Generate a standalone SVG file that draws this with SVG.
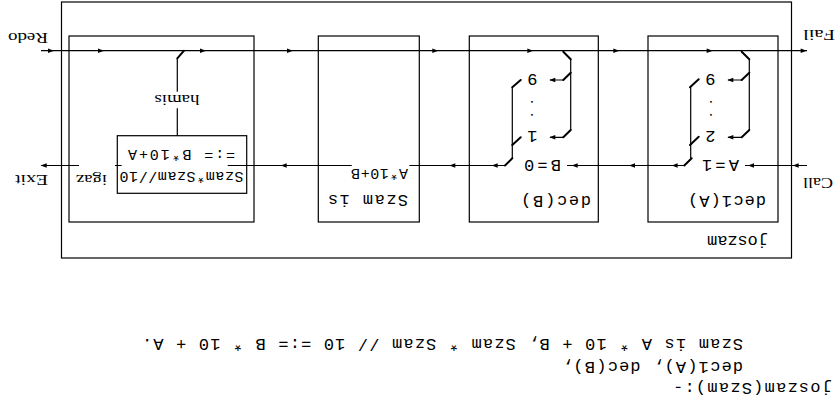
<svg xmlns="http://www.w3.org/2000/svg" width="838" height="404" viewBox="0 0 838 404">
<style>
.ln{stroke:#000;stroke-width:1.2;fill:none}
.sw{stroke:#000;stroke-width:2;fill:none;stroke-linecap:round}
.bx{stroke:#000;stroke-width:1.2;fill:none}
.mono{font-family:"Liberation Mono","Courier New",monospace;fill:#000}
.serif{font-family:"Liberation Serif","Times New Roman",serif;fill:#000;font-size:15px}
.m17{font-size:17px}
.m15{font-size:15px}
.dot{font-size:11px;font-weight:bold}
</style>
<defs>
<path id="ar" d="M0,0 L-6,-2.3 L-6,2.3 Z" fill="#000"/>
<path id="al" d="M0,0 L6,-2.3 L6,2.3 Z" fill="#000"/>
</defs>
<rect width="838" height="404" fill="#fff"/>
<g transform="rotate(180 419 202)">
  <g id="code">
    <text class="mono m17" x="6" y="20.7" textLength="159">joszam(Szam):-</text>
    <text class="mono m17" x="95" y="42" textLength="181">dec1(A), dec(B),</text>
    <text class="mono m17" x="95" y="64.7" textLength="601">Szam is A * 10 + B, Szam * Szam // 10 =:= B * 10 + A.</text>
  </g>
  <g id="joszam">
    <rect class="bx" x="46.5" y="146" width="730" height="256"/>
    <text class="mono m17" x="70" y="168" textLength="61">joszam</text>
  </g>
  <g id="port-labels">
    <text class="serif" x="5" y="226" textLength="30" lengthAdjust="spacingAndGlyphs">Call</text>
    <text class="serif" x="3" y="374" textLength="32" lengthAdjust="spacingAndGlyphs">Fail</text>
    <text class="serif" x="790" y="229" textLength="33" lengthAdjust="spacingAndGlyphs">Exit</text>
    <text class="serif" x="790" y="371" textLength="40" lengthAdjust="spacingAndGlyphs">Redo</text>
  </g>
  <g id="dec1">
    <rect class="bx" x="60" y="182" width="130" height="186"/>
    <text class="mono m17" x="72" y="208" textLength="78">dec1(A)</text>
    <text class="mono m17" x="99" y="244" textLength="37">A=1</text>
    <text class="mono m17" x="127.5" y="273.5" text-anchor="middle">2</text>
    <text class="mono dot" x="127" y="290.5" text-anchor="middle">.</text>
    <text class="mono dot" x="127" y="303.5" text-anchor="middle">.</text>
    <text class="mono m17" x="127.5" y="330" text-anchor="middle">9</text>
  </g>
  <g id="dec">
    <rect class="bx" x="239.7" y="182" width="129" height="186"/>
    <text class="mono m17" x="247" y="208" textLength="70">dec(B)</text>
    <text class="mono m17" x="277" y="244" textLength="37">B=0</text>
    <text class="mono m17" x="305.5" y="273.5" text-anchor="middle">1</text>
    <text class="mono dot" x="306" y="290.5" text-anchor="middle">.</text>
    <text class="mono dot" x="306" y="303.5" text-anchor="middle">.</text>
    <text class="mono m17" x="305.5" y="330" text-anchor="middle">9</text>
  </g>
  <g id="szamis">
    <rect class="bx" x="418.7" y="182" width="101" height="186"/>
    <text class="mono m17" x="430" y="209" textLength="80">Szam is</text>
    <text class="mono m15" x="430" y="235.5" textLength="57">A*10+B</text>
  </g>
  <g id="check">
    <rect class="bx" x="584" y="182" width="185" height="186"/>
    <rect class="bx" x="591.3" y="210.7" width="129.4" height="57.6"/>
    <text class="mono m15" x="656.5" y="232" text-anchor="middle" textLength="124">Szam*Szam//10</text>
    <text class="mono m15" x="656.5" y="254" text-anchor="middle" textLength="107">=:= B*10+A</text>
    <text class="serif" x="661" y="309" text-anchor="middle" textLength="45" lengthAdjust="spacingAndGlyphs">hamis</text>
    <text class="serif" x="731" y="229" textLength="31" lengthAdjust="spacingAndGlyphs">igaz</text>
  </g>
  <g id="connectors">
    <path class="ln" d="M31,238.5H93 M153.7,238.5H271 M333,238.5H428.7 M486.3,238.5H610.3 M716.3,238.5H723 M759,238.5H797"/>
    <path class="ln" d="M31,353.3H797"/>
    <path class="ln" d="M147.3,245.7V316.7 M88.7,274V344.7 M96.3,324H110 M96.3,266.7H110"/>
    <path class="ln" d="M325.7,245.7V316.7 M267.3,274V344.7 M274.7,324H288 M274.7,266.7H288"/>
    <path class="ln" d="M660.7,268.3V295.7 M660.7,312.3V345.7"/>
    <path class="sw" d="M148,316.7L139.3,324.7 M148,259L139.3,267.3 M153.7,238.5L146.3,245.7 M96.3,352.3L88.7,344.7 M88.7,331.3L96.3,324 M88.7,274L96.3,266.7"/>
    <path class="sw" d="M325.7,316.7L317.3,324 M325.7,259L317.3,266.7 M333,238.5L325.7,245.7 M274.7,352.3L267.3,344.7 M267.3,331.3L274.7,324 M267.3,274L274.7,266.7"/>
    <path class="sw" d="M660.7,345.7L654,353.3"/>
    <use href="#ar" x="45.3" y="238.5"/>
    <use href="#ar" x="90" y="238.5"/>
    <use href="#ar" x="166.3" y="238.5"/>
    <use href="#ar" x="209" y="238.5"/>
    <use href="#ar" x="266.3" y="238.5"/>
    <use href="#ar" x="346.3" y="238.5"/>
    <use href="#ar" x="388.7" y="238.5"/>
    <use href="#ar" x="557.3" y="238.5"/>
    <use href="#ar" x="797.3" y="238.5"/>
    <use href="#ar" x="110.7" y="324"/>
    <use href="#ar" x="110.7" y="266.7"/>
    <use href="#ar" x="288.7" y="324"/>
    <use href="#ar" x="288.7" y="266.7"/>
    <use href="#al" x="31.3" y="353.3"/>
    <use href="#al" x="125.3" y="353.3"/>
    <use href="#al" x="218.7" y="353.3"/>
    <use href="#al" x="304.7" y="353.3"/>
    <use href="#al" x="399.7" y="353.3"/>
    <use href="#al" x="545" y="353.3"/>
    <use href="#al" x="632" y="353.3"/>
    <use href="#al" x="734" y="353.3"/>
    <use href="#al" x="784" y="353.3"/>
  </g>
</g>
</svg>
